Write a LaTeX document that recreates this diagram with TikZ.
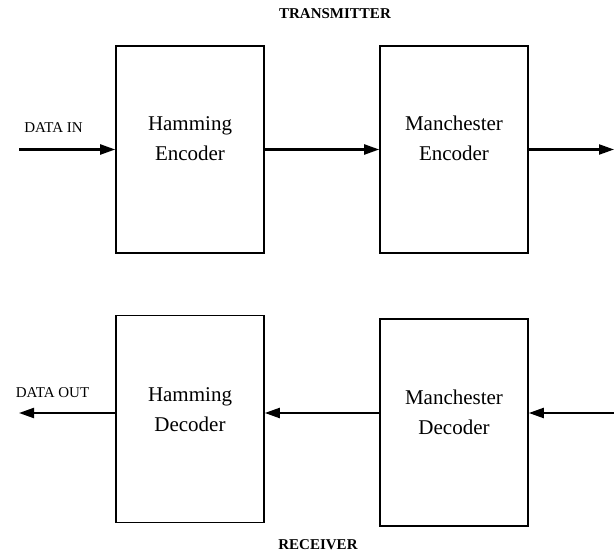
\documentclass[tikz,border=0pt]{standalone}
\usepackage{fontspec}
\setmainfont{Liberation Serif}
\usepackage{tikz}
\usetikzlibrary{arrows.meta}
\tikzset{
  coderbox/.style={rectangle, draw, line width=1.6pt, minimum width=148pt, minimum height=207pt, inner sep=0pt},
  codertext/.style={align=center, inner sep=0pt, font=\fontsize{21}{30}\selectfont},
  flow/.style={-{Triangle[length=15pt,width=10pt]}, line width=2.2pt},
  portlabel/.style={font=\fontsize{15}{18}\selectfont, inner sep=0pt},
  sidelabel/.style={font=\fontsize{15}{18}\selectfont\bfseries, inner sep=0pt}
}
\newcommand{\coderblock}[4] {\node at (#1) (#2) [coderbox] {};
  \node at ([yshift=#3]#2.center) (#2text) [codertext] {#4};}
\newcommand{\flowarrow}[2] {\draw [flow] (#1) -- (#2);}

\begin{document}
\begin{tikzpicture}[x=1pt,y=-1pt]
\useasboundingbox (0,0) rectangle (614,553);

\node at (335,14) (tx) [sidelabel] {TRANSMITTER};
\node at (318,545) (rx) [sidelabel] {RECEIVER};

% transmitter chain
\coderblock {190,149.5}{henc}{11pt}{Hamming\\Encoder}
\coderblock {454,149.5}{menc}{11pt}{Manchester\\Encoder}
\coordinate (datain) at (19,149.5);
\coordinate (txout) at (614,149.5);
\node at (53.5,128) (datainlabel) [portlabel] {DATA IN};
\flowarrow {datain}{henc}
\flowarrow {henc}{menc}
\flowarrow {menc}{txout}

% receiver chain
\coderblock {190,419}{hdec}{9pt}{Hamming\\Decoder}
\coderblock {454,422.5}{mdec}{10pt}{Manchester\\Decoder}
\coordinate (rxin) at (614,413);
\coordinate (dataout) at (19,413);
\node at (52.5,393) (dataoutlabel) [portlabel] {DATA OUT};
\flowarrow {rxin}{rxin -| mdec.east}
\flowarrow {rxin -| mdec.west}{rxin -| hdec.east}
\flowarrow {rxin -| hdec.west}{dataout}

\end{tikzpicture}
\end{document}
